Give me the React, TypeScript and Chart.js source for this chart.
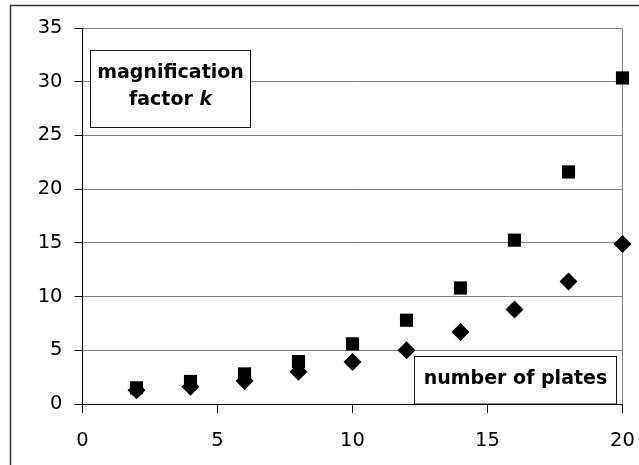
import { useEffect, useRef } from "react";
import { Chart, registerables } from "chart.js";

Chart.register(...registerables);

const plates = [2, 4, 6, 8, 10, 12, 14, 16, 18, 20];
const squareSeries = [1.5, 2.1, 2.8, 3.95, 5.6, 7.8, 10.8, 15.25, 21.6, 30.35];
const diamondSeries = [1.27, 1.6, 2.15, 3.0, 3.9, 5.0, 6.7, 8.8, 11.4, 14.9];
const xTicks = [0, 5, 10, 15, 20];
const yTicks = [0, 5, 10, 15, 20, 25, 30, 35];
const yTitleLine1 = "magnification";
const yTitleLine2 = "factor ";
const yTitleSymbol = "k";
const xTitle = "number of plates";

const TICK_FONT = { family: "'DejaVu Sans'", size: 19.5 };

const framePlugin = {
  id: "framePlugin",
  beforeDraw(chart: any) {
    const ctx = chart.ctx as CanvasRenderingContext2D;
    ctx.save();
    ctx.fillStyle = "#ffffff";
    ctx.fillRect(0, 0, chart.width, chart.height);
    ctx.strokeStyle = "#333333";
    ctx.lineWidth = 1.5;
    ctx.strokeRect(10.5, 5.5, chart.width + 40, chart.height + 40);
    ctx.restore();
  },
  afterDraw(chart: any) {
    const ctx = chart.ctx as CanvasRenderingContext2D;
    const box = (x: number, y: number, w: number, h: number) => {
      ctx.fillStyle = "#ffffff";
      ctx.fillRect(x, y, w, h);
      ctx.strokeStyle = "#111111";
      ctx.lineWidth = 1;
      ctx.strokeRect(x, y, w, h);
    };
    ctx.save();
    // y-title box
    box(90.5, 50.5, 160, 77);
    ctx.fillStyle = "#000000";
    ctx.textBaseline = "middle";
    ctx.textAlign = "center";
    ctx.font = "bold 19px 'DejaVu Sans'";
    ctx.fillText(yTitleLine1, 170.5, 73);
    const w1 = ctx.measureText(yTitleLine2).width;
    ctx.font = "italic bold 19px 'DejaVu Sans'";
    const w2 = ctx.measureText(yTitleSymbol).width;
    const startX = 170.5 - (w1 + w2) / 2;
    ctx.textAlign = "left";
    ctx.font = "bold 19px 'DejaVu Sans'";
    ctx.fillText(yTitleLine2, startX, 100);
    ctx.font = "italic bold 19px 'DejaVu Sans'";
    ctx.fillText(yTitleSymbol, startX + w1, 100);
    // x-title box
    box(414.5, 356.5, 202, 47.5);
    ctx.fillStyle = "#000000";
    ctx.textAlign = "center";
    ctx.font = "bold 19px 'DejaVu Sans'";
    ctx.fillText(xTitle, 515.5, 379);
    ctx.restore();
  },
};

export default function App() {
  const canvasRef = useRef<HTMLCanvasElement | null>(null);

  useEffect(() => {
    if (!canvasRef.current) return;
    const chart = new Chart(canvasRef.current, {
      type: "scatter",
      data: {
        datasets: [
          {
            label: "squares",
            data: plates.map((p, i) => ({ x: p, y: squareSeries[i] })),
            pointStyle: "rect",
            pointRadius: 9.3,
            backgroundColor: "#000000",
            borderColor: "#000000",
            borderWidth: 0,
            clip: false as any,
          },
          {
            label: "diamonds",
            data: plates.map((p, i) => ({ x: p, y: diamondSeries[i] })),
            pointStyle: "rectRot",
            pointRadius: 9,
            backgroundColor: "#000000",
            borderColor: "#000000",
            borderWidth: 0,
            clip: false as any,
          },
        ],
      },
      options: {
        responsive: false,
        maintainAspectRatio: false,
        animation: false,
        layout: { padding: { left: 0, top: 28, right: 16.5, bottom: 0 } },
        plugins: {
          legend: { display: false },
          tooltip: { enabled: false },
        },
        scales: {
          x: {
            type: "linear",
            position: "bottom",
            min: 0,
            max: 20,
            afterBuildTicks: (scale: any) => {
              scale.ticks = xTicks.map((v) => ({ value: v }));
            },
            afterFit: (scale: any) => {
              scale.height = 61;
              scale.paddingLeft = 0;
              scale.paddingRight = 0;
            },
            grid: {
              color: (c: any) =>
                c.tick && c.tick.value === 20 ? "#808080" : "rgba(0,0,0,0)",
              tickColor: "#000000",
              tickLength: 9,
              lineWidth: 1,
            },
            border: { color: "#000000", width: 1 },
            ticks: {
              color: "#000000",
              font: TICK_FONT,
              padding: 16,
              maxRotation: 0,
            },
          },
          y: {
            type: "linear",
            min: 0,
            max: 35,
            afterBuildTicks: (scale: any) => {
              scale.ticks = yTicks.map((v) => ({ value: v }));
            },
            afterFit: (scale: any) => {
              scale.width = 82.5;
              scale.paddingTop = 0;
              scale.paddingBottom = 0;
            },
            grid: {
              color: "#808080",
              tickColor: "#000000",
              tickLength: 8,
              lineWidth: 1,
            },
            border: { color: "#000000", width: 1 },
            ticks: {
              color: "#000000",
              font: TICK_FONT,
              padding: 12,
            },
          },
        },
      },
      plugins: [framePlugin],
    });
    return () => chart.destroy();
  }, []);

  return (
    <div style={{ position: "absolute", left: 0, top: 0, width: 639, height: 465 }}>
      <canvas
        ref={canvasRef}
        width={639}
        height={465}
        style={{ display: "block", width: 639, height: 465 }}
      />
    </div>
  );
}
